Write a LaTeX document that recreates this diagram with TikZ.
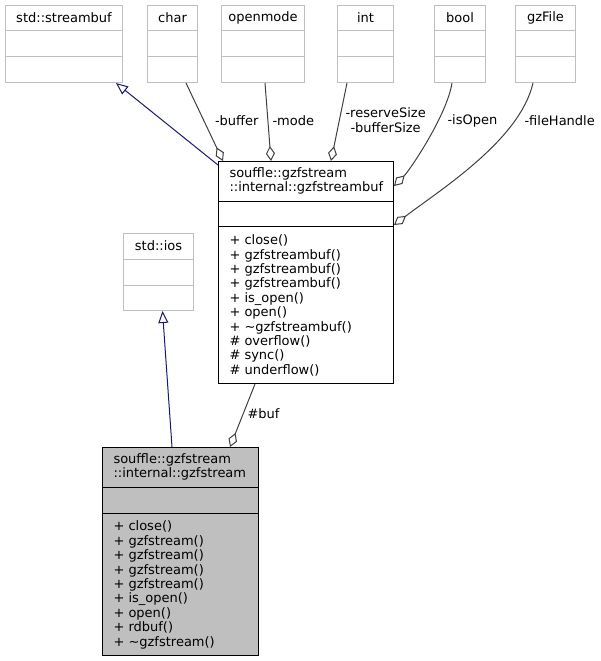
\documentclass[tikz,border=0pt]{standalone}
\usepackage{fontspec}
\setmainfont{DejaVu Sans}
\usepackage{xcolor}
\usepackage{tikz}
\usetikzlibrary{positioning, arrows.meta, calc}
\definecolor{boxgray}{HTML}{BFBFBF}
\definecolor{edgegray}{HTML}{404040}
\definecolor{navyblue}{HTML}{191970}
\newcommand{\dfont}{\fontsize{13}{14.4}\selectfont}

\begin{document}
\begin{tikzpicture}[
  x=1pt, y=-1pt, line width=1pt,
  topbox/.style={draw=boxgray, fill=white, inner sep=0pt, anchor=north west},
  classbox/.style={draw=black, inner sep=0pt, anchor=north west},
  txt/.style={font=\dfont, inner sep=0pt, align=left},
  lbl/.style={font=\dfont, inner sep=0pt, align=center},
  aggr/.style={draw=edgegray, -{Diamond[open, length=15pt, width=9pt]}},
  inherit/.style={draw=navyblue, -{Triangle[open, length=12pt, width=10pt]}},
]
\useasboundingbox (0,0) rectangle (601,661);

% Member types and base classes
\foreach \nm/\lx/\bw/\ttl in {streambuf/5/117/std::streambuf, chartype/147/50/char,
    openmode/221/83/openmode, inttype/337/56/int, booltype/434/51/bool, gzfile/515/60/gzFile} {
  \node[topbox, minimum width=\bw pt, minimum height=77pt] (\nm) at (\lx,5) {};
  \node[txt] (\nm-title) at ([yshift=-13pt]\nm.north) {\ttl};
  \draw[boxgray] ([yshift=-26pt]\nm.north west) -- ([yshift=-26pt]\nm.north east);
  \draw[boxgray] ([yshift=-52pt]\nm.north west) -- ([yshift=-52pt]\nm.north east);
}

\node[topbox, minimum width=70pt, minimum height=77pt] (ios) at (123,233) {};
\node[txt] (ios-title) at ([yshift=-13pt]ios.north) {std::ios};
\draw[boxgray] ([yshift=-26pt]ios.north west) -- ([yshift=-26pt]ios.north east);
\draw[boxgray] ([yshift=-52pt]ios.north west) -- ([yshift=-52pt]ios.north east);

% gzfstreambuf
\node[classbox, fill=white, minimum width=175pt, minimum height=222pt] (buf) at (218,161) {};
\draw ([yshift=-40pt]buf.north west) -- ([yshift=-40pt]buf.north east);
\draw ([yshift=-65pt]buf.north west) -- ([yshift=-65pt]buf.north east);
\node[txt, anchor=west] (buf-title) at ([xshift=11pt,yshift=-20pt]buf.north west)
  {souffle::gzfstream\\::internal::gzfstreambuf};
\node[txt, anchor=west] (buf-ops) at ([xshift=11pt,yshift=78.5pt]buf.south west)
  {+ close()\\+ gzfstreambuf()\\+ gzfstreambuf()\\+ gzfstreambuf()\\+ is\_open()\\+ open()\\
   + \textasciitilde gzfstreambuf()\\\# overflow()\\\# sync()\\\# underflow()};

% gzfstream
\node[classbox, fill=boxgray, minimum width=156pt, minimum height=208pt] (gzs) at (102,447) {};
\draw ([yshift=-40pt]gzs.north west) -- ([yshift=-40pt]gzs.north east);
\draw ([yshift=-66pt]gzs.north west) -- ([yshift=-66pt]gzs.north east);
\node[txt, anchor=west] (gzs-title) at ([xshift=11pt,yshift=-20pt]gzs.north west)
  {souffle::gzfstream\\::internal::gzfstream};
\node[txt, anchor=west] (gzs-ops) at ([xshift=11pt,yshift=71pt]gzs.south west)
  {+ close()\\+ gzfstream()\\+ gzfstream()\\+ gzfstream()\\+ gzfstream()\\+ is\_open()\\
   + open()\\+ rdbuf()\\+ \textasciitilde gzfstream()};

% Inheritance
\draw[inherit] ([yshift=-4pt]buf.north west) -- ([xshift=-7pt]streambuf.south east);
\draw[inherit] ([xshift=70pt]gzs.north west) -- ([xshift=4pt]ios.south);

% Members
\draw[aggr] ([xshift=39pt]chartype.south west) -- ([xshift=5pt]buf.north west);
\draw[aggr] ([xshift=44pt]openmode.south west) -- ([xshift=53pt]buf.north west);
\draw[aggr] ([xshift=10pt]inttype.south west) -- ([xshift=113pt]buf.north west);
\draw[aggr] ([xshift=18pt]booltype.south west) .. controls (447,115) and (410,170)
  .. ([yshift=-25pt]buf.north east);
\draw[aggr] ([xshift=18pt]gzfile.south west) .. controls (520,140) and (440,190)
  .. ([yshift=-64pt]buf.north east);
\draw[aggr] ([xshift=37pt]buf.south west) -- ([xshift=128pt]gzs.north west);

% Member labels
\node[lbl, anchor=east] (l-buffer) at (259,121) {-buffer};
\node[lbl, anchor=west] (l-mode) at (272,121) {-mode};
\node[lbl, anchor=west] (l-size) at (345,120) {-reserveSize\\-bufferSize};
\node[lbl, anchor=west] (l-open) at (447,121) {-isOpen};
\node[lbl, anchor=west] (l-file) at (524,121) {-fileHandle};
\node[lbl, anchor=west] (l-buf) at (247,414) {\#buf};

\end{tikzpicture}
\end{document}
